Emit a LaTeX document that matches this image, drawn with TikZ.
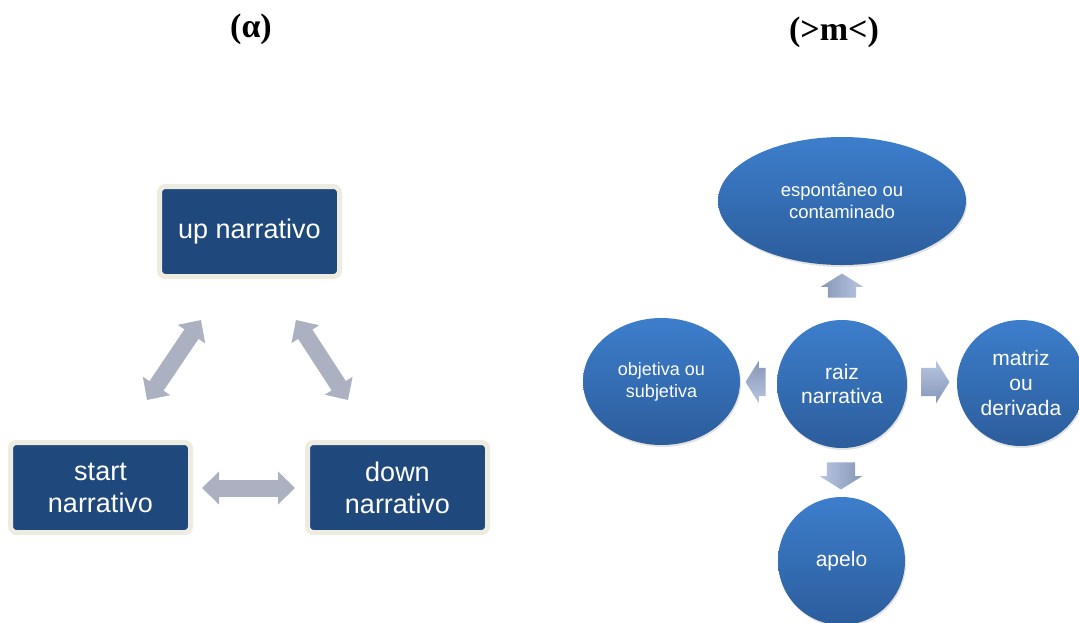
\documentclass[tikz,border=0pt]{standalone}
\usepackage{fontspec}
\setmainfont{Liberation Sans}
\newfontfamily\titlefont{Liberation Serif}
\usetikzlibrary{arrows.meta,shapes.geometric,shapes.arrows,shadows}

\definecolor{boxblue}{RGB}{31,73,125}
\definecolor{boxrim}{RGB}{238,236,225}
\definecolor{linkgray}{RGB}{171,177,193}
\definecolor{orbtop}{RGB}{61,126,204}
\definecolor{orbbot}{RGB}{44,93,156}
\definecolor{tiptop}{RGB}{184,198,226}
\definecolor{tipbot}{RGB}{134,150,182}

\tikzset{
  stage/.style={draw=boxrim, line width=5pt, fill=boxblue, rounded corners=6pt,
    minimum width=180pt, minimum height=90pt, inner sep=0pt, text=white,
    align=center, font=\fontsize{27}{32}\selectfont},
  orb/.style={ellipse, inner sep=0pt, text=white, align=center,
    top color=orbtop, bottom color=orbbot,
    drop shadow={opacity=0.22, shadow xshift=1pt, shadow yshift=-2pt}},
  link/.style={line width=17pt, draw=linkgray,
    {Triangle[width=32pt,length=17pt]}-{Triangle[width=32pt,length=17pt]}},
  radial/.style={single arrow, single arrow head extend=7pt,
    single arrow tip angle=116, inner xsep=0pt, inner ysep=14pt,
    top color=tiptop, bottom color=tipbot},
  heading/.style={font=\titlefont\bfseries\fontsize{34}{38}\selectfont}
}

\begin{document}
\begin{tikzpicture}[x=1pt, y=-1pt]
\useasboundingbox[fill=white] (0,0) rectangle (1079,622);

% headings
\node[heading] (ta) at (251,29) {(α)};
\node[heading] (tb) at (834,32) {(>m<)};

% narrative cycle
\node[stage] (up)    at (249.5,231.5) {up narrativo};
\node[stage] (start) at (100.5,487.5) {start\\narrativo};
\node[stage] (down)  at (397.5,487.5) {down\\narrativo};

\coordinate (sl) at (147,400);  \coordinate (ul) at (201,320);
\coordinate (ur) at (296,320);  \coordinate (dr) at (348,400);
\coordinate (sr) at (202,488);  \coordinate (dl) at (295,488);
\draw[link] (sl) -- (ul);
\draw[link] (ur) -- (dr);
\draw[link] (sr) -- (dl);

% radial diagram
\node[orb, minimum width=130pt, minimum height=128pt,
      font=\fontsize{21}{24}\selectfont] (root) at (842,384) {raiz\\narrativa};
\node[orb, minimum width=248pt, minimum height=128pt,
      font=\fontsize{18.5}{22}\selectfont] (esp) at (842,201) {espontâneo ou\\contaminado};
\node[orb, minimum width=157pt, minimum height=127pt,
      font=\fontsize{18}{22}\selectfont] (obj) at (661.5,381.5) {objetiva ou\\subjetiva};
\node[orb, minimum width=128pt, minimum height=126pt,
      font=\fontsize{21}{25}\selectfont] (mat) at (1021,383) {matriz\\ou\\derivada};
\node[orb, minimum width=127pt, minimum height=128pt,
      font=\fontsize{21}{24}\selectfont] (ape) at (841.5,561) {apelo};

\node[radial, minimum height=24pt, rotate=90, shading angle=-90] (aup) at (842,290) {};
\node[radial, minimum height=27pt, rotate=-90, shading angle=90] (adn) at (841,471.5) {};
\node[radial, minimum height=20pt, rotate=180, shading angle=180] (alt) at (760,382) {};
\node[radial, minimum height=28pt] (art) at (931,382) {};
\end{tikzpicture}
\end{document}
